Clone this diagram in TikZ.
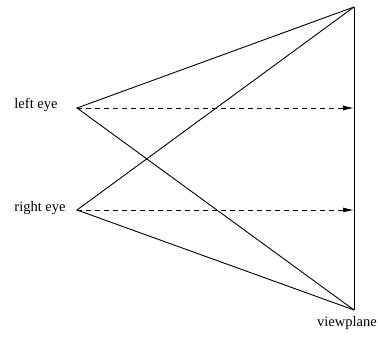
\documentclass[tikz,border=0pt]{standalone}
\usepackage{fontspec}
\setmainfont{Liberation Serif}
\usetikzlibrary{arrows.meta}
\begin{document}
\begin{tikzpicture}[x=1pt,y=1pt,
  ray/.style={line width=0.9pt},
  sight/.style={line width=0.9pt, dash pattern=on 5pt off 4pt, -{Latex[length=11pt,width=5pt]}},
  lbl/.style={font=\fontsize{14.5}{17}\selectfont, inner sep=0pt}]
\useasboundingbox (0,0) rectangle (378,339);
\coordinate (L) at (77,231);
\coordinate (R) at (77,129);
\coordinate (T) at (354,332);
\coordinate (B) at (354,29);
\coordinate (LA) at (354,231);
\coordinate (RA) at (354,129);
\node[lbl] (lt) at (36,234) {left eye};
\node[lbl] (rt) at (40,131) {right eye};
\node[lbl] (vt) at (347,16) {viewplane};
\draw[ray] (T) -- (B);
\draw[ray] (T) -- (L) -- (B);
\draw[ray] (T) -- (R) -- (B);
\draw[sight] (L) -- (LA);
\draw[sight] (R) -- (RA);
\end{tikzpicture}
\end{document}
